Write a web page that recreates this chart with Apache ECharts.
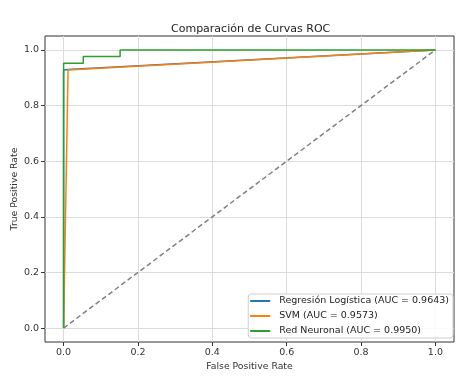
<!DOCTYPE html>
<html>
<head>
<meta charset="utf-8">
<script src="https://cdn.jsdelivr.net/npm/echarts@6/dist/echarts.min.js"></script>
<style>
  html, body { margin: 0; padding: 0; background: #fff; }
  #chart { width: 476px; height: 385px; }
</style>
</head>
<body>
<div id="chart"></div>
<script>
// ROC curves (fpr, tpr)
const logFpr = [0, 0, 0.012, 1];
const logTpr = [0, 0.928, 0.93, 1];
const svmFpr = [0, 0.012, 1];
const svmTpr = [0, 0.928, 1];
const nnFpr = [0, 0, 0.053, 0.053, 0.152, 0.152, 1];
const nnTpr = [0, 0.952, 0.952, 0.976, 0.976, 1, 1];
const diagFpr = [0, 1];
const diagTpr = [0, 1];
const tickValues = [0, 0.2, 0.4, 0.6, 0.8, 1.0];
const seriesNames = [
  "Regresión Logística (AUC = 0.9643)",
  "SVM (AUC = 0.9573)",
  "Red Neuronal (AUC = 0.9950)"
];

const font = "DejaVu Sans";
const zip = (xs, ys) => xs.map((x, i) => [x, ys[i]]);

const lineSeries = (name, xs, ys, color, z) => ({
  name: name,
  type: "line",
  data: zip(xs, ys),
  showSymbol: false,
  symbol: "none",
  lineStyle: { color: color, width: 1.5 },
  itemStyle: { color: color },
  z: z,
  animation: false
});

const axisCommon = {
  type: "value",
  min: -0.05,
  max: 1.05,
  axisLine: { show: false, onZero: false },
  axisTick: {
    show: true,
    inside: false,
    length: 4,
    lineStyle: { color: "#333", width: 1 },
    customValues: tickValues
  },
  axisLabel: {
    color: "#333",
    fontFamily: font,
    fontSize: 9.5,
    margin: 6,
    customValues: tickValues,
    formatter: (v) => v.toFixed(1)
  },
  splitLine: { show: true, lineStyle: { color: "#dcdcdc", width: 1 } },
  nameLocation: "middle",
  nameMoveOverlap: false,
  nameTextStyle: { color: "#333", fontFamily: font, fontSize: 9.3 }
};

const chart = echarts.init(document.getElementById("chart"));
chart.setOption({
  animation: false,
  backgroundColor: "#fff",
  title: {
    text: "Comparación de Curvas ROC",
    left: 166,
    top: 19,
    textStyle: { fontFamily: font, fontSize: 11, fontWeight: "normal", color: "#222" }
  },
  grid: {
    left: 45,
    right: 22,
    top: 36,
    bottom: 43,
    containLabel: false,
    outerBoundsMode: "none",
    show: true,
    borderColor: "#333",
    borderWidth: 1,
    backgroundColor: "transparent"
  },
  xAxis: Object.assign({}, axisCommon, { name: "False Positive Rate", nameGap: 20 }),
  yAxis: Object.assign({}, axisCommon, { name: "True Positive Rate", nameGap: 26 }),
  legend: {
    orient: "vertical",
    right: 23,
    bottom: 47,
    data: seriesNames,
    icon: "rect",
    itemWidth: 20,
    itemHeight: 2,
    itemGap: 5,
    padding: [2, 4, 2, 2],
    backgroundColor: "rgba(255,255,255,0.85)",
    borderColor: "#d0d0d0",
    borderWidth: 1,
    borderRadius: 3,
    textStyle: { fontFamily: font, fontSize: 9.5, color: "#222", padding: [0, 0, 0, 4] }
  },
  series: [
    lineSeries(seriesNames[0], logFpr, logTpr, "#1f77b4", 2),
    lineSeries(seriesNames[1], svmFpr, svmTpr, "#ff7f0e", 3),
    lineSeries(seriesNames[2], nnFpr, nnTpr, "#2ca02c", 4),
    {
      name: "diag",
      type: "line",
      data: zip(diagFpr, diagTpr),
      showSymbol: false,
      symbol: "none",
      lineStyle: { color: "#808080", width: 1.5, type: [5, 3] },
      z: 5,
      silent: true
    }
  ]
});
</script>
</body>
</html>
